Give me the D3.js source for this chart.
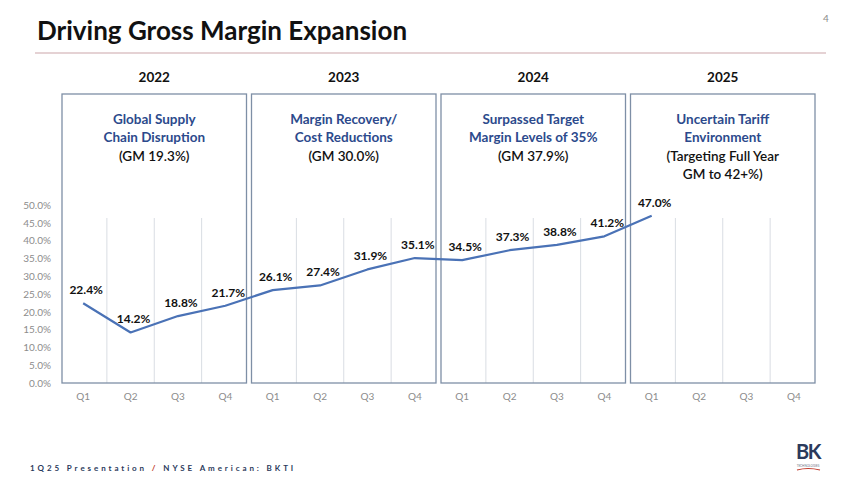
<!DOCTYPE html>
<html>
<head>
<meta charset="utf-8">
<script src="https://cdn.jsdelivr.net/npm/d3@7"></script>
<style>
    body { margin: 0; background: #fff; }
    text { font-family: Lato, 'Open Sans', sans-serif; }
</style>
</head>
<body>
<div class="container"></div>
<script>
var years = ['2022', '2023', '2024', '2025'];
var quarters = ['Q1', 'Q2', 'Q3', 'Q4'];
var grossMargin = [22.4, 14.2, 18.8, 21.7, 26.1, 27.4, 31.9, 35.1, 34.5, 37.3, 38.8, 41.2, 47.0];
var yTicks = [0, 5, 10, 15, 20, 25, 30, 35, 40, 45, 50];
var boxTitles = [
    ['Global Supply', 'Chain Disruption'],
    ['Margin Recovery/', 'Cost Reductions'],
    ['Surpassed Target', 'Margin Levels of 35%'],
    ['Uncertain Tariff', 'Environment']
];
var boxNotes = [
    ['(GM 19.3%)'],
    ['(GM 30.0%)'],
    ['(GM 37.9%)'],
    ['(Targeting Full Year', 'GM to 42+%)']
];

var categories = [];
years.forEach(function (yr) {
    quarters.forEach(function (q) {
        categories.push(yr + ' ' + q);
    });
});

var points = grossMargin.map(function (v, i) {
    return {key: categories[i], value: v};
});

var translate = function (x, y) {
    return 'translate(' + x + ', ' + y + ')';
};

var visualize = function () {
    const WIDTH = 850;
    const HEIGHT = 478;
    const PLOT_LEFT = 59.5;
    const PLOT_RIGHT = 817.5;
    const PLOT_BOTTOM = 383;
    const GRID_TOP = 218;
    const BOX_TOP = 94;
    const INSET = 2.5;

    var xScale = d3.scaleBand().domain(categories).range([PLOT_LEFT, PLOT_RIGHT]);
    var yScale = d3.scaleLinear().domain([0, 50]).range([PLOT_BOTTOM, 205]);
    var xMid = function (k) { return xScale(k) + xScale.bandwidth() / 2; };

    var svg = d3.select('.container')
        .append('svg')
        .attr('width', WIDTH)
        .attr('height', HEIGHT);

    // header
    svg.append('text')
        .attr('x', 37).attr('y', 40)
        .attr('font-size', 26).attr('font-weight', 700)
        .attr('fill', '#111')
        .text('Driving Gross Margin Expansion');
    svg.append('text')
        .attr('x', 826).attr('y', 22)
        .attr('text-anchor', 'middle')
        .attr('font-size', 10).attr('fill', '#8a8a8a')
        .text('4');
    svg.append('line')
        .attr('x1', 35).attr('x2', 826)
        .attr('y1', 53).attr('y2', 53)
        .attr('stroke', '#dcc3c6').attr('stroke-width', 1.5);

    // vertical gridlines between quarters
    svg.append('g').selectAll('line')
        .data(categories.filter(function (d, i) { return i % 4 !== 0; }))
        .enter()
        .append('line')
        .attr('x1', function (d) { return xScale(d); })
        .attr('x2', function (d) { return xScale(d); })
        .attr('y1', GRID_TOP).attr('y2', PLOT_BOTTOM)
        .attr('stroke', '#d9dde3').attr('stroke-width', 1);

    // year boxes
    var boxes = svg.append('g').selectAll('g')
        .data(years)
        .enter()
        .append('g');

    boxes.append('rect')
        .attr('x', function (yr) { return xScale(yr + ' Q1') + INSET; })
        .attr('y', BOX_TOP)
        .attr('width', function (yr) {
            return xScale(yr + ' Q4') + xScale.bandwidth() - xScale(yr + ' Q1') - 2 * INSET;
        })
        .attr('height', PLOT_BOTTOM - BOX_TOP)
        .attr('fill', 'none')
        .attr('stroke', '#7e8fa6').attr('stroke-width', 1.3);

    boxes.append('text')
        .attr('x', function (yr) { return (xScale(yr + ' Q1') + xScale(yr + ' Q4') + xScale.bandwidth()) / 2; })
        .attr('y', 82)
        .attr('text-anchor', 'middle')
        .attr('font-size', 13.5).attr('font-weight', 700).attr('fill', '#111')
        .text(function (yr) { return yr; });

    boxes.each(function (yr, i) {
        var g = d3.select(this);
        var cx = (xScale(yr + ' Q1') + xScale(yr + ' Q4') + xScale.bandwidth()) / 2;
        var lines = boxTitles[i].map(function (t) { return {t: t, c: '#2c4a8c', w: 700}; })
            .concat(boxNotes[i].map(function (t) { return {t: t, c: '#111', w: 600}; }));
        g.selectAll('text.desc')
            .data(lines)
            .enter()
            .append('text')
            .attr('class', 'desc')
            .attr('x', cx)
            .attr('y', function (d, j) { return 124 + j * 17.5 + (j >= boxTitles[i].length ? 2 : 0); })
            .attr('text-anchor', 'middle')
            .attr('font-size', 13.5)
            .attr('font-weight', function (d) { return d.w; })
            .attr('fill', function (d) { return d.c; })
            .text(function (d) { return d.t; });
    });

    // axes
    var yAxis = d3.axisLeft(yScale)
        .tickValues(yTicks)
        .tickFormat(function (d) { return d3.format('.1f')(d) + '%'; })
        .tickSize(0).tickPadding(0);
    svg.append('g')
        .attr('transform', translate(51, 0))
        .call(yAxis)
        .call(function (g) { g.select('.domain').remove(); })
        .selectAll('text')
        .attr('font-size', 10).attr('fill', '#8c8c8c')
        .attr('font-family', 'Lato, sans-serif');

    var xAxis = d3.axisBottom(xScale)
        .tickFormat(function (d) { return d.split(' ')[1]; })
        .tickSize(0).tickPadding(10);
    svg.append('g')
        .attr('transform', translate(0, PLOT_BOTTOM))
        .call(xAxis)
        .call(function (g) { g.select('.domain').remove(); })
        .selectAll('text')
        .attr('font-size', 10).attr('fill', '#8c8c8c')
        .attr('font-family', 'Lato, sans-serif');

    // gross margin line
    var line = d3.line()
        .x(function (d) { return xMid(d.key); })
        .y(function (d) { return yScale(d.value); });

    svg.append('path')
        .datum(points)
        .attr('d', line)
        .attr('fill', 'none')
        .attr('stroke', '#4a72b6')
        .attr('stroke-width', 2.2)
        .attr('stroke-linejoin', 'round');

    svg.append('g').selectAll('text')
        .data(points)
        .enter()
        .append('text')
        .attr('x', function (d) { return xMid(d.key) + 3; })
        .attr('y', function (d) { return yScale(d.value) - 9; })
        .attr('text-anchor', 'middle')
        .attr('font-size', 12).attr('font-weight', 700).attr('fill', '#111')
        .text(function (d) { return d.value.toFixed(1) + '%'; });

    // footer
    var foot = svg.append('text')
        .attr('x', 30).attr('y', 471)
        .attr('font-size', 8).attr('font-weight', 700)
        .attr('letter-spacing', 2.9)
        .attr('fill', '#2b3a5c');
    foot.append('tspan').text('1Q25 Presentation ');
    foot.append('tspan').attr('fill', '#c0392b').text('/');
    foot.append('tspan').text(' NYSE American: BKTI');

    svg.append('text')
        .attr('x', 808).attr('y', 459)
        .attr('text-anchor', 'middle')
        .attr('font-size', 20).attr('font-weight', 700)
        .attr('letter-spacing', -1.5)
        .attr('fill', '#2b3a5c')
        .text('BK');
    svg.append('text')
        .attr('x', 808).attr('y', 467)
        .attr('text-anchor', 'middle')
        .attr('font-size', 3).attr('fill', '#6a7385')
        .text('TECHNOLOGIES');
    svg.append('path')
        .attr('d', 'M797,470 Q808,467 820,470')
        .attr('fill', 'none')
        .attr('stroke', '#c0392b').attr('stroke-width', 1.2);
};

window.onload = visualize;
</script>
</body>
</html>
